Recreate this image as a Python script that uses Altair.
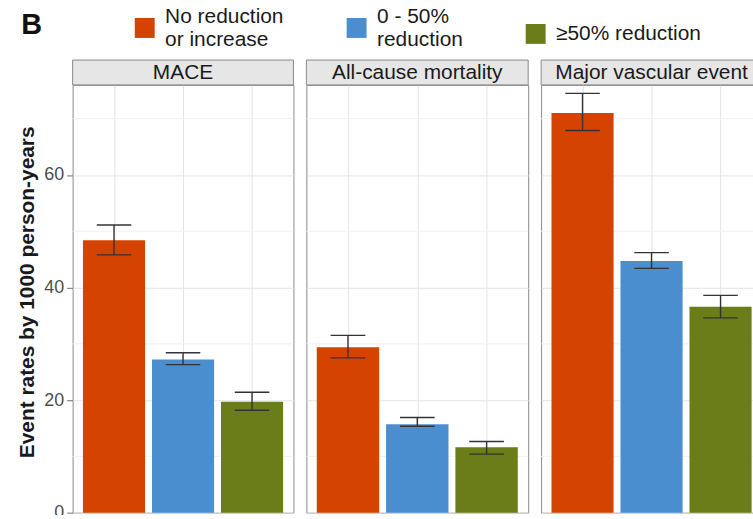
import altair as alt
import pandas as pd

# Panels (outcomes) and LDL-reduction groups
panels = ["MACE", "All-cause mortality", "Major vascular event"]
groups = ["No reduction\nor increase", "0 - 50%\nreduction", "≥50% reduction"]
colors = ["#D54300", "#4A8ECF", "#6A7D18"]

# Event rates per 1000 person-years, with 95% CI bounds
rate_mace = [48.4, 27.2, 19.7]
lo_mace = [45.8, 26.3, 18.2]
hi_mace = [51.1, 28.4, 21.4]

rate_acm = [29.4, 15.7, 11.6]
lo_acm = [27.5, 15.35, 10.4]
hi_acm = [31.5, 16.9, 12.65]

rate_mve = [71.0, 44.7, 36.6]
lo_mve = [67.9, 43.4, 34.6]
hi_mve = [74.5, 46.2, 38.6]

major_ticks = [0, 20, 40, 60]
minor_ticks = [10, 30, 50, 70]
y_max = 76

rows = []
for name, rates, los, his in zip(
    panels,
    [rate_mace, rate_acm, rate_mve],
    [lo_mace, lo_acm, lo_mve],
    [hi_mace, hi_acm, hi_mve],
):
    for k, (g, r, lo, hi) in enumerate(zip(groups, rates, los, his)):
        rows.append({"panel": name, "group": g, "pos": k + 1,
                     "rate": r, "lo": lo, "hi": hi})
df = pd.DataFrame(rows)

FONT = "Liberation Sans"
GRID = "#e4e4e4"
MINOR = "#f1f1f1"
BORDER = "#8a8a8a"
INK = "#333333"
PANEL_H = 430
STRIP_H = 25

y_scale = alt.Scale(domain=[0, y_max], nice=False, zero=True)
x_scale = alt.Scale(domain=[0.4, 3.6], nice=False, zero=False)

x_axis = alt.Axis(values=[1, 2, 3], labels=False, ticks=False, domain=False,
                  title=None, grid=True, gridColor=GRID)


def y_axis(first):
    if first:
        return alt.Axis(values=major_ticks, title="Event rates by 1000 person-years",
                        titleFontSize=21, titleFontWeight="bold", titleColor="#1a1a1a",
                        titlePadding=6, titleY=208, labelFontSize=18,
                        labelColor="#4d4d4d", labelPadding=3, tickSize=6,
                        tickColor="#6e6e6e", domain=False, grid=True, gridColor=GRID)
    return alt.Axis(values=major_ticks, title=None, labels=False, ticks=False,
                    domain=False, grid=True, gridColor=GRID)


# Two-line labels sit centred on their key; the one-line label stays middle
legend = alt.Legend(
    title=None, orient="none", legendX=62, legendY=-68, direction="horizontal",
    symbolType="square", symbolSize=400, symbolStrokeWidth=0,
    labelFontSize=21, labelColor="#1a1a1a", labelFont=FONT, labelOffset=10,
    labelBaseline=alt.ExprRef(
        "indexof(datum.label, '\\n') >= 0 ? 'line-bottom' : 'middle'"),
    columnPadding=62, padding=0, labelLimit=300,
    labelExpr="split(datum.label, '\\n')",
)


def panel(name, width, first):
    sub = df[df["panel"] == name]
    ya = y_axis(first)
    base = alt.Chart(sub)

    minor = alt.Chart(pd.DataFrame({"v": minor_ticks})).mark_rule(
        color=MINOR, strokeWidth=1
    ).encode(y=alt.Y("v:Q", scale=y_scale, axis=ya))

    bars = base.transform_calculate(
        x0="datum.pos - 0.45", x1="datum.pos + 0.45", base="0"
    ).mark_bar().encode(
        x=alt.X("x0:Q", scale=x_scale, axis=x_axis),
        x2="x1:Q",
        y=alt.Y("rate:Q", scale=y_scale, axis=ya),
        y2="base:Q",
        color=alt.Color("group:N", scale=alt.Scale(domain=groups, range=colors),
                        legend=legend),
    )

    stems = base.mark_rule(color=INK, strokeWidth=1.4).encode(
        x=alt.X("pos:Q", scale=x_scale, axis=x_axis),
        y=alt.Y("lo:Q", scale=y_scale, axis=ya),
        y2="hi:Q",
    )

    caps = base.transform_calculate(
        c0="datum.pos - 0.25", c1="datum.pos + 0.25"
    ).transform_fold(["lo", "hi"], as_=["end", "val"]).mark_rule(
        color=INK, strokeWidth=1.4
    ).encode(
        x=alt.X("c0:Q", scale=x_scale, axis=x_axis),
        x2="c1:Q",
        y=alt.Y("val:Q", scale=y_scale, axis=ya),
    )

    strip_df = pd.DataFrame({"panel": [name]})
    strip = alt.Chart(strip_df).mark_rect(
        fill="#e6e6e6", stroke=BORDER, strokeWidth=1
    ).encode(x=alt.value(0), x2=alt.value(width),
             y=alt.value(-STRIP_H), y2=alt.value(0))
    strip_text = alt.Chart(strip_df).mark_text(
        font=FONT, fontSize=21, color="#1a1a1a", baseline="middle", align="center"
    ).encode(x=alt.value(width / 2), y=alt.value(-STRIP_H / 2 + 1), text="panel:N")

    return alt.layer(minor, bars, stems, caps, strip, strip_text).properties(
        width=width, height=PANEL_H
    )


chart = alt.hconcat(
    panel(panels[0], 222, True),
    panel(panels[1], 223, False),
    panel(panels[2], 222, False),
    spacing=11,
).properties(
    title=alt.TitleParams("B", anchor="start", fontSize=29, fontWeight="bold",
                          font=FONT, color="#111111", offset=0, dx=5, dy=23),
    # the figure is cropped on the right and at the bottom
    padding={"left": 16, "top": 10, "right": -10, "bottom": -9},
).configure(font=FONT).configure_view(
    stroke=BORDER, strokeWidth=1
)

chart.save("out.html", embed_options={"renderer": "svg", "actions": False})
